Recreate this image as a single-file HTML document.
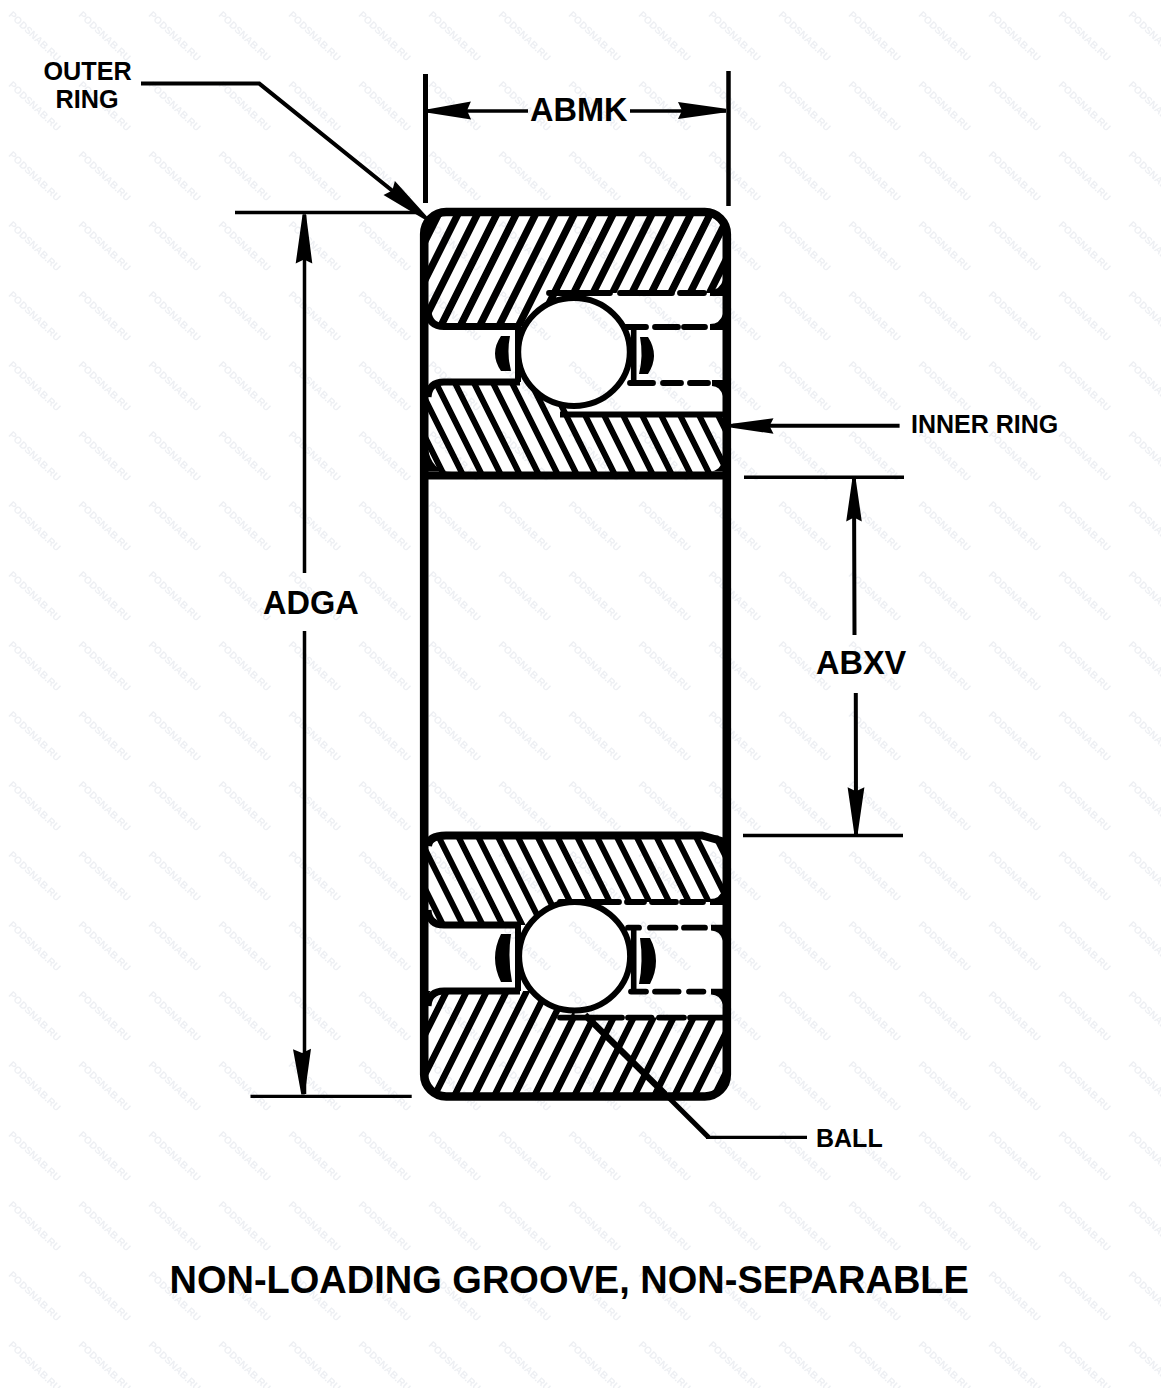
<!DOCTYPE html>
<html><head><meta charset="utf-8"><style>html,body{margin:0;padding:0;background:#fff;}body{width:1161px;height:1388px;overflow:hidden;}svg{display:block;}</style></head>
<body><svg width="1161" height="1388" viewBox="0 0 1161 1388"><defs><pattern id="wm" patternUnits="userSpaceOnUse" width="70" height="70" x="0" y="0">
<text transform="translate(8,15.5) rotate(43.5)" font-family="Liberation Sans" font-weight="bold" font-size="10" fill="#edeff3">PODSNAB.RU</text>
</pattern><clipPath id="c_or1"><path d="M424,212H727V293H574V326.5H424Z"/></clipPath><clipPath id="c_ir1"><path d="M424,382H574V414.5H727V475.5H424Z"/></clipPath><clipPath id="c_ir2"><path d="M424,835.5H727V902H574.6V925H424Z"/></clipPath><clipPath id="c_or2"><path d="M424,991H574.6V1017.6H727V1097H424Z"/></clipPath><clipPath id="c_rr"><rect x="424.2" y="212" width="302.6" height="884.5" rx="22" ry="22"/></clipPath></defs><rect width="1161" height="1388" fill="#fff"/><rect width="1161" height="1388" fill="url(#wm)"/><g clip-path="url(#c_rr)"><path clip-path="url(#c_or1)" d="M404.3,205.0L339.3,335.0M423.7,205.0L358.7,335.0M443.1,205.0L378.1,335.0M462.5,205.0L397.5,335.0M481.9,205.0L416.9,335.0M501.3,205.0L436.3,335.0M520.7,205.0L455.7,335.0M540.1,205.0L475.1,335.0M559.5,205.0L494.5,335.0M578.9,205.0L513.9,335.0M598.3,205.0L533.3,335.0M617.7,205.0L552.7,335.0M637.1,205.0L572.1,335.0M656.5,205.0L591.5,335.0M675.9,205.0L610.9,335.0M695.3,205.0L630.3,335.0M714.7,205.0L649.7,335.0M734.1,205.0L669.1,335.0M753.5,205.0L688.5,335.0M772.9,205.0L707.9,335.0M792.3,205.0L727.3,335.0M811.7,205.0L746.7,335.0" stroke="#000" stroke-width="7.2" fill="none"/><path clip-path="url(#c_ir1)" d="M337.0,375.0L389.5,480.0M356.0,375.0L408.5,480.0M375.0,375.0L427.5,480.0M394.0,375.0L446.5,480.0M413.0,375.0L465.5,480.0M432.0,375.0L484.5,480.0M451.0,375.0L503.5,480.0M470.0,375.0L522.5,480.0M489.0,375.0L541.5,480.0M508.0,375.0L560.5,480.0M527.0,375.0L579.5,480.0M546.0,375.0L598.5,480.0M565.0,375.0L617.5,480.0M584.0,375.0L636.5,480.0M603.0,375.0L655.5,480.0M622.0,375.0L674.5,480.0M641.0,375.0L693.5,480.0M660.0,375.0L712.5,480.0M679.0,375.0L731.5,480.0M698.0,375.0L750.5,480.0M717.0,375.0L769.5,480.0M736.0,375.0L788.5,480.0M755.0,375.0L807.5,480.0" stroke="#000" stroke-width="6.0" fill="none"/><path clip-path="url(#c_ir2)" d="M336.2,830.0L386.2,930.0M356.0,830.0L406.0,930.0M375.8,830.0L425.8,930.0M395.6,830.0L445.6,930.0M415.4,830.0L465.4,930.0M435.2,830.0L485.2,930.0M455.0,830.0L505.0,930.0M474.8,830.0L524.8,930.0M494.6,830.0L544.6,930.0M514.4,830.0L564.4,930.0M534.2,830.0L584.2,930.0M554.0,830.0L604.0,930.0M573.8,830.0L623.8,930.0M593.6,830.0L643.6,930.0M613.4,830.0L663.4,930.0M633.2,830.0L683.2,930.0M653.0,830.0L703.0,930.0M672.8,830.0L722.8,930.0M692.6,830.0L742.6,930.0M712.4,830.0L762.4,930.0M732.2,830.0L782.2,930.0M752.0,830.0L802.0,930.0" stroke="#000" stroke-width="6.0" fill="none"/><path clip-path="url(#c_or2)" d="M389.8,985.0L332.3,1100.0M409.8,985.0L352.3,1100.0M429.8,985.0L372.3,1100.0M449.8,985.0L392.3,1100.0M469.8,985.0L412.3,1100.0M489.8,985.0L432.3,1100.0M509.8,985.0L452.3,1100.0M529.8,985.0L472.3,1100.0M549.8,985.0L492.3,1100.0M569.8,985.0L512.3,1100.0M589.8,985.0L532.3,1100.0M609.8,985.0L552.3,1100.0M629.8,985.0L572.3,1100.0M649.8,985.0L592.3,1100.0M669.8,985.0L612.3,1100.0M689.8,985.0L632.3,1100.0M709.8,985.0L652.3,1100.0M729.8,985.0L672.3,1100.0M749.8,985.0L692.3,1100.0M769.8,985.0L712.3,1100.0M789.8,985.0L732.3,1100.0M809.8,985.0L752.3,1100.0" stroke="#000" stroke-width="6.5" fill="none"/></g><rect x="424.2" y="212" width="302.6" height="884.5" rx="22" ry="22" stroke="#000" fill="none" stroke-width="8.6"/><path d="M428,311 Q429,326.5 444,326.5 H520" stroke="#000" fill="none" stroke-width="7"/><path d="M549,293H610M620,293H672M680,293H704" stroke="#000" fill="none" stroke-width="5.8" stroke-linecap="round"/><path d="M710,295.9 L723,295.9 L723,280 Q720,290.1 710,290.1 Z" fill="#000"/><path d="M428,397 Q429,382 444,382 H520" stroke="#000" fill="none" stroke-width="7"/><path d="M560,414.5 H727" stroke="#000" fill="none" stroke-width="5.8"/><path d="M424,475.5 H727" stroke="#000" fill="none" stroke-width="8"/><path d="M428,448 Q431,471.5 452,471.5 L428,471.5Z" fill="#000"/><path d="M723,458 Q721,471.5 709,471.5 L723,471.5Z" fill="#000"/><ellipse cx="574" cy="352" rx="55.8" ry="54" fill="#fff"/><ellipse cx="574" cy="352" rx="55.8" ry="54" fill="url(#wm)"/><ellipse cx="574" cy="352" rx="55.8" ry="54" stroke="#000" fill="none" stroke-width="6"/><path d="M518,326 V382" stroke="#000" fill="none" stroke-width="6"/><path d="M633.7,327 V383" stroke="#000" fill="none" stroke-width="5.6"/><path d="M625,327H646M655,327H678M684,327H705" stroke="#000" fill="none" stroke-width="5.8" stroke-linecap="round"/><path d="M710,329.9 L723,329.9 L723,314 Q720,324.1 710,324.1 Z" fill="#000"/><path d="M630,383H653M663,383H681M690,383H708" stroke="#000" fill="none" stroke-width="5.8" stroke-linecap="round"/><path d="M712,380.1 L723,380.1 L723,396 Q720,385.9 712,385.9 Z" fill="#000"/><path d="M501,336 L510,336 Q506.5,353.5 511,371 L501,371 Q489,353.5 501,336 Z" fill="#000"/><path d="M648,337 L640,337 Q643.5,355.5 639,374 L648,374 Q660,355.5 648,337 Z" fill="#000"/><path d="M428,846 Q429,835.5 446,835.5 H702 L725,842" stroke="#000" fill="none" stroke-width="8"/><path d="M428,910 Q429,925 444,925 H520" stroke="#000" fill="none" stroke-width="7"/><path d="M560,902H619M627,902H644M652,902H676M682,902H703" stroke="#000" fill="none" stroke-width="5.8" stroke-linecap="round"/><path d="M710,904.9 L723,904.9 L723,889 Q720,899.1 710,899.1 Z" fill="#000"/><path d="M428,1006 Q429,991 444,991 H520" stroke="#000" fill="none" stroke-width="7"/><path d="M560,1017.6H622M628,1017.6H651.5M659,1017.6H684M690,1017.6H727" stroke="#000" fill="none" stroke-width="5.8" stroke-linecap="round"/><ellipse cx="574.6" cy="956.3" rx="55.5" ry="54.3" fill="#fff"/><ellipse cx="574.6" cy="956.3" rx="55.5" ry="54.3" fill="url(#wm)"/><ellipse cx="574.6" cy="956.3" rx="55.5" ry="54.3" stroke="#000" fill="none" stroke-width="6"/><path d="M518,925 V991" stroke="#000" fill="none" stroke-width="6"/><path d="M633.7,928 V991" stroke="#000" fill="none" stroke-width="5.6"/><path d="M628,927.7H639M650,927.7H675.5M684,927.7H705" stroke="#000" fill="none" stroke-width="5.8" stroke-linecap="round"/><path d="M711,924.8000000000001 L723,924.8000000000001 L723,940.7 Q720,930.6 711,930.6 Z" fill="#000"/><path d="M631,991.6H646M655,991.6H678.6M689,991.6H703.4" stroke="#000" fill="none" stroke-width="5.8" stroke-linecap="round"/><path d="M711,988.7 L723,988.7 L723,1004.6 Q720,994.5 711,994.5 Z" fill="#000"/><path d="M501,934 L511,934 Q507.5,958.0 512,982 L501,982 Q489,958.0 501,934 Z" fill="#000"/><path d="M650,938 L640,938 Q643.5,961.0 639,984 L650,984 Q662,961.0 650,938 Z" fill="#000"/><path d="M425.5,74 V203" stroke="#000" fill="none" stroke-width="5"/><path d="M728.5,71 V206" stroke="#000" fill="none" stroke-width="4.5"/><path d="M428,111 H528 M630,111 H726" stroke="#000" fill="none" stroke-width="3.3"/><path d="M428.0,112.7L471.1,119.5L467.0,110.5L470.9,101.5L428.0,109.3Z" fill="#000"/><path d="M726.0,108.8L678.0,102.0L682.0,110.5L678.0,119.0L726.0,112.2Z" fill="#000"/><path d="M141,83.6 H259.3 L420,213" stroke="#000" fill="none" stroke-width="4"/><path d="M428.1,217.7L394.9,181.0L392.3,190.5L383.5,195.0L425.9,220.3Z" fill="#000"/><path d="M235,212.5 H420" stroke="#000" fill="none" stroke-width="3.6"/><path d="M250.5,1096.3 H411.7" stroke="#000" fill="none" stroke-width="3.3"/><path d="M304.5,215 V573 M304.5,631 V1094" stroke="#000" fill="none" stroke-width="3.5"/><path d="M302.6,214.3L295.7,263.4L304.0,259.5L312.3,263.6L306.0,214.3Z" fill="#000"/><path d="M304.7,1094.6L311.0,1048.8L302.1,1053.0L293.0,1049.2L301.3,1094.6Z" fill="#000"/><path d="M744,477.2 H904" stroke="#000" fill="none" stroke-width="3.6"/><path d="M743,835.5 H903" stroke="#000" fill="none" stroke-width="3.3"/><path d="M854,479 L854.5,635 M855.8,693 L856,834" stroke="#000" fill="none" stroke-width="4"/><path d="M852.3,479.0L846.2,521.5L854.0,517.5L861.8,521.5L855.7,479.0Z" fill="#000"/><path d="M857.7,833.8L864.4,787.2L856.0,791.2L847.6,787.2L854.3,833.8Z" fill="#000"/><path d="M733,425.8 H899.6" stroke="#000" fill="none" stroke-width="4"/><path d="M730.3,427.5L773.5,433.8L769.5,426.0L773.5,418.2L730.3,424.1Z" fill="#000"/><path d="M585,1015 L665,1094" stroke="#000" fill="none" stroke-width="6.5"/><path d="M660,1089 L708.5,1137.3" stroke="#000" fill="none" stroke-width="5"/><path d="M706,1137.3 H807" stroke="#000" fill="none" stroke-width="3.3"/><text x="43.5" y="80" font-size="25.2" font-family="Liberation Sans" font-weight="bold" fill="#000">OUTER</text><text x="55.5" y="108" font-size="25.2" font-family="Liberation Sans" font-weight="bold" fill="#000">RING</text><text x="530" y="121.2" font-size="32.5" font-family="Liberation Sans" font-weight="bold" fill="#000">ABMK</text><text x="263" y="614" font-size="32.5" font-family="Liberation Sans" font-weight="bold" fill="#000">ADGA</text><text x="816" y="674" font-size="32.5" font-family="Liberation Sans" font-weight="bold" fill="#000">ABXV</text><text x="911" y="432.7" font-size="25" font-family="Liberation Sans" font-weight="bold" fill="#000">INNER RING</text><text x="816" y="1147" font-size="25" font-family="Liberation Sans" font-weight="bold" fill="#000">BALL</text><text x="169.5" y="1292.8" font-size="38" font-family="Liberation Sans" font-weight="bold" fill="#000">NON-LOADING GROOVE, NON-SEPARABLE</text></svg></body></html>
